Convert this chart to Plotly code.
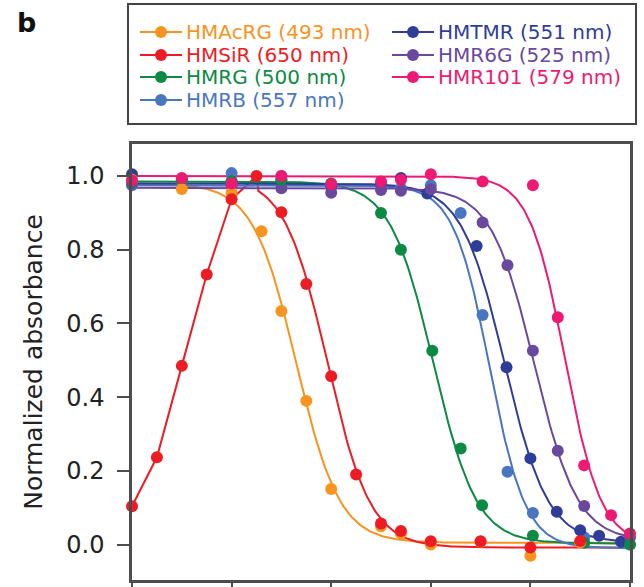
import numpy as np
import plotly.graph_objects as go

# ---------------- data ----------------
names = ["HMAcRG (493 nm)", "HMSiR (650 nm)", "HMRG (500 nm)", "HMRB (557 nm)",
         "HMTMR (551 nm)", "HMR6G (525 nm)", "HMR101 (579 nm)"]
colors = ["#F7931E", "#ED1C24", "#0B8A43", "#4A76C0", "#2E3D98", "#6A489E", "#EC1A72"]

acrg_ph = [2, 3, 4, 4.6, 5, 5.5, 6, 7, 7.4, 8, 9, 10, 11]
acrg_abs = [0.99, 0.965, 0.955, 0.85, 0.634, 0.39, 0.151, 0.05, 0.03, 0.0, 0.008, -0.03, 0.006]

sir_ph = [2, 2.5, 3, 3.5, 4, 4.5, 5, 5.5, 6, 6.5, 7, 7.4, 8, 9, 10, 11]
sir_abs = [0.104, 0.237, 0.485, 0.733, 0.937, 1.0, 0.902, 0.707, 0.457, 0.19, 0.057, 0.037,
           0.009, 0.009, -0.008, 0.01]

rg_ph = [2, 3, 4, 5, 6, 7, 7.4, 8.03, 8.6, 9.03, 10.05, 11.08, 12]
rg_abs = [0.985, 0.99, 0.985, 0.99, 0.98, 0.90, 0.80, 0.526, 0.261, 0.107, 0.024, 0.005, 0.0]

rb_ph = [2, 3, 4, 5, 6, 7, 7.4, 8, 8.6, 9.04, 9.54, 10.05, 11.08, 12]
rb_abs = [0.975, 0.98, 1.008, 1.0, 0.97, 0.975, 0.967, 0.975, 0.90, 0.623, 0.198, 0.086, 0.02, 0.0]

tmr_ph = [2, 3, 4, 5, 6, 7, 7.4, 7.93, 8.92, 9.52, 10.0, 10.53, 11.0, 11.38, 11.82]
tmr_abs = [1.005, 0.99, 0.985, 0.99, 0.975, 0.98, 0.995, 0.953, 0.81, 0.481, 0.234, 0.089,
           0.039, 0.024, 0.008]

r6g_ph = [2, 3, 4, 5, 6, 7, 7.4, 8.0, 9.04, 9.54, 10.05, 10.55, 11.08, 12]
r6g_abs = [0.98, 0.985, 0.975, 0.967, 0.955, 0.962, 0.96, 0.964, 0.874, 0.758, 0.526, 0.255,
           0.105, 0.02]

r101_ph = [2, 3, 4, 5, 6, 7, 7.4, 8.0, 9.04, 10.05, 10.55, 11.08, 11.62, 12.0]
r101_abs = [0.988, 0.995, 0.98, 1.0, 0.978, 0.985, 0.99, 1.005, 0.985, 0.975, 0.617, 0.215,
            0.08, 0.03]

# sigmoid fit parameters (top, bottom, pKcycl, slope)
fit_top = [0.98, 1.0, 0.985, 0.975, 0.98, 0.968, 1.0]
fit_bottom = [0.005, -0.008, 0.003, -0.01, 0.005, 0.01, 0.0]
fit_pk = [5.3, 5.92, 8.05, 9.18, 9.48, 10.08, 10.7]
fit_n = [1.0, 1.0, 1.0, 1.2, 1.0, 1.0, 1.2]
sir_rise_end = 4.5   # HMSiR: points joined up to this pH, fit beyond

x_ticks = [2, 4, 6, 8, 10, 12]
y_ticks = [0.0, 0.2, 0.4, 0.6, 0.8, 1.0]

series_ph = [acrg_ph, sir_ph, rg_ph, rb_ph, tmr_ph, r6g_ph, r101_ph]
series_abs = [acrg_abs, sir_abs, rg_abs, rb_abs, tmr_abs, r6g_abs, r101_abs]

# ---------------- layout geometry ----------------
W, H = 644, 587
ML, MR, MT, MB = 132, 14, 144, 7
PW, PH = W - ML - MR, H - MT - MB


def px(x):
    return (x - ML) / PW


def py(y):
    return (H - MB - y) / PH


def sigmoid(ph, i):
    ph = np.asarray(ph, dtype=float)
    return fit_bottom[i] + (fit_top[i] - fit_bottom[i]) / (1 + 10 ** (fit_n[i] * (ph - fit_pk[i])))


fig = go.Figure()

# fitted curves
for i in range(len(names)):
    if i == 1:
        xs_pts = [p for p in sir_ph if p <= sir_rise_end]
        ys_pts = [v for p, v in zip(sir_ph, sir_abs) if p <= sir_rise_end]
        grid = np.linspace(sir_rise_end, 12, 200)
        xs = list(xs_pts) + list(grid[1:])
        ys = list(ys_pts) + list(sigmoid(grid[1:], i))
    else:
        grid = np.linspace(2, 12, 300)
        xs, ys = list(grid), list(sigmoid(grid, i))
    fig.add_trace(go.Scatter(x=xs, y=ys, mode="lines", name=names[i], showlegend=False,
                             line=dict(color=colors[i], width=2), hoverinfo="skip"))

# measured points (drawing order so magenta / red end up on top as in reference)
draw_order = [3, 4, 5, 2, 0, 1, 6]
for i in draw_order:
    fig.add_trace(go.Scatter(x=series_ph[i], y=series_abs[i], mode="markers", name=names[i],
                             showlegend=False, cliponaxis=False,
                             marker=dict(color=colors[i], size=12, line=dict(width=0))))

# ---------------- custom legend (box, symbols, coloured text) ----------------
shapes = [dict(type="rect", xref="paper", yref="paper", x0=px(128), x1=px(636),
               y0=py(124), y1=py(4), line=dict(color="#444", width=2))]
annotations = []
legend_pos = [(140, 32), (140, 55), (140, 77), (140, 100), (392, 32), (392, 55), (392, 77)]
for i, (lx, ly) in enumerate(legend_pos):
    shapes.append(dict(type="line", xref="paper", yref="paper", x0=px(lx), x1=px(lx + 42),
                       y0=py(ly), y1=py(ly), line=dict(color=colors[i], width=2)))
    shapes.append(dict(type="circle", xref="paper", yref="paper", x0=px(lx + 15), x1=px(lx + 27),
                       y0=py(ly + 6), y1=py(ly - 6), fillcolor=colors[i],
                       line=dict(color=colors[i], width=0)))
    annotations.append(dict(text=names[i], xref="paper", yref="paper", x=px(lx + 44), y=py(ly),
                            xanchor="left", yanchor="middle", showarrow=False,
                            font=dict(family="DejaVu Sans", size=20, color=colors[i])))

annotations.append(dict(text="<b>b</b>", xref="paper", yref="paper", x=px(15), y=py(23),
                        xanchor="left", yanchor="middle", showarrow=False,
                        font=dict(family="DejaVu Sans", size=27, color="#111")))

axis_col = "#4d4d4d"
fig.update_layout(
    width=W, height=H,
    margin=dict(l=ML, r=MR, t=MT, b=MB, autoexpand=False),
    paper_bgcolor="white", plot_bgcolor="white",
    showlegend=False,
    shapes=shapes, annotations=annotations,
    font=dict(family="DejaVu Sans", color="#222"),
    xaxis=dict(range=[2, 12], tickvals=x_ticks, showticklabels=False, ticks="outside",
               ticklen=10, tickwidth=2, tickcolor=axis_col, showline=True, linecolor=axis_col,
               linewidth=2.5, mirror=True, showgrid=False, zeroline=False),
    yaxis=dict(range=[-0.096, 1.087], tickvals=y_ticks, tickformat=".1f", ticks="outside",
               ticklen=12, tickwidth=2, tickcolor=axis_col, showline=True, linecolor=axis_col,
               linewidth=2.5, mirror=True, showgrid=False, zeroline=False,
               tickfont=dict(size=24), ticklabelstandoff=8,
               title=dict(text="Normalized absorbance", font=dict(size=25), standoff=17)),
)

fig.write_html("out.html", config={"displayModeBar": False})

# remove the default page margin so the 644x587 figure fills the window exactly
with open("out.html", encoding="utf-8") as f:
    html = f.read()
html = html.replace("<head>", "<head><style>html,body{margin:0;padding:0;overflow:hidden;}</style>", 1)
with open("out.html", "w", encoding="utf-8") as f:
    f.write(html)
